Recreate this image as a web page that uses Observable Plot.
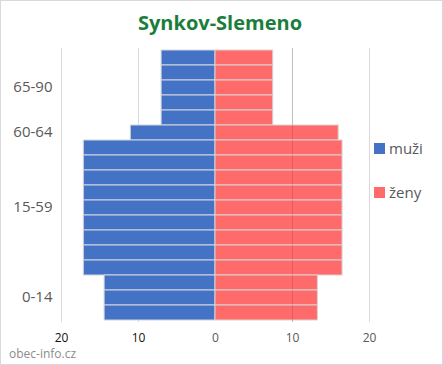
<!DOCTYPE html>
<html>
<head>
<meta charset="utf-8">
<script src="https://cdn.jsdelivr.net/npm/d3@7"></script>
<script src="https://cdn.jsdelivr.net/npm/@observablehq/plot@0.6"></script>
<style>
  body { margin: 0; background: #fff; }
  #wrap { position: relative; width: 443px; height: 365px; font-family: "Open Sans", sans-serif; overflow: hidden; }
  #title { height: 40px; line-height: 46px; text-align: center; font-weight: bold; font-size: 20px; color: #1b7d3c; width: 440px; }
  #border { position: absolute; left: 0; top: 0; width: 441px; height: 363px; border: 1px solid #d9d9d9; pointer-events: none; }
  .leg { position: absolute; left: 374px; font-size: 15px; color: #595959; display: flex; align-items: center; }
  .leg span.sw { display: inline-block; width: 11px; height: 11px; margin-right: 4px; }
  #src { position: absolute; left: 9px; top: 345px; font-size: 12px; color: #8c8c8c; }
  svg { display: block; }
</style>
</head>
<body>
<div id="wrap">
  <div id="title">Synkov-Slemeno</div>
  <div id="chart"></div>
  <div class="leg" style="top:138px"><span class="sw" style="background:#4472C4"></span>muži</div>
  <div class="leg" style="top:182px"><span class="sw" style="background:#FF6B6B"></span>ženy</div>
  <div id="src">obec-info.cz</div>
  <div id="border"></div>
</div>
<script>
const groups = ["65-90", "60-64", "15-59", "0-14"];
const rowsPerGroup = [5, 1, 9, 3];
const men = [7.0, 11.0, 17.1, 14.4];
const women = [7.5, 16.0, 16.5, 13.3];
const xTicks = [-20, -10, 0, 10, 20];
const xTickLabels = ["20", "10", "0", "10", "20"];

const rows = [];
const labelRows = [];
let id = 0;
groups.forEach((g, i) => {
  const start = id;
  for (let k = 0; k < rowsPerGroup[i]; k++) {
    rows.push({row: id, group: g, men: men[i], women: women[i]});
    id++;
  }
  labelRows.push({row: start + Math.floor(rowsPerGroup[i] / 2), label: g});
});
const rowIds = rows.map(d => d.row);
const ticks = xTicks.map((v, i) => ({v, label: xTickLabels[i]}));

const chart = Plot.plot({
  width: 443,
  height: 325,
  marginTop: 8,
  marginBottom: 43,
  marginLeft: 61,
  marginRight: 74,
  x: {domain: [-20, 20], axis: null},
  y: {type: "band", domain: rowIds, padding: 0, axis: null},
  style: {fontFamily: "Open Sans, sans-serif", background: "transparent"},
  marks: [
    Plot.ruleX([-20, -10, 10, 20], {stroke: "#d9d9d9", strokeWidth: 1}),
    Plot.barX(rows, {y: "row", x1: 0, x2: d => -d.men, fill: "#4472C4", stroke: "#d3d6e0", strokeWidth: 1, inset: 0}),
    Plot.barX(rows, {y: "row", x1: 0, x2: d => d.women, fill: "#FF6B6B", stroke: "#d9d4d4", strokeWidth: 1, inset: 0}),
    Plot.ruleX([10], {stroke: "#000", strokeOpacity: 0.12, strokeWidth: 1}),
    Plot.text(labelRows, {y: "row", text: "label", frameAnchor: "left", textAnchor: "end", dx: -9, dy: -1, fontSize: 15, fill: "#595959"}),
    Plot.text(ticks, {x: "v", text: "label", frameAnchor: "bottom", dy: 19, fontSize: 12, fill: d => d.v < 0 ? "#111" : "#595959", fontWeight: d => d.v < 0 ? 500 : 400})
  ]
});
document.getElementById("chart").appendChild(chart);
</script>
</body>
</html>
